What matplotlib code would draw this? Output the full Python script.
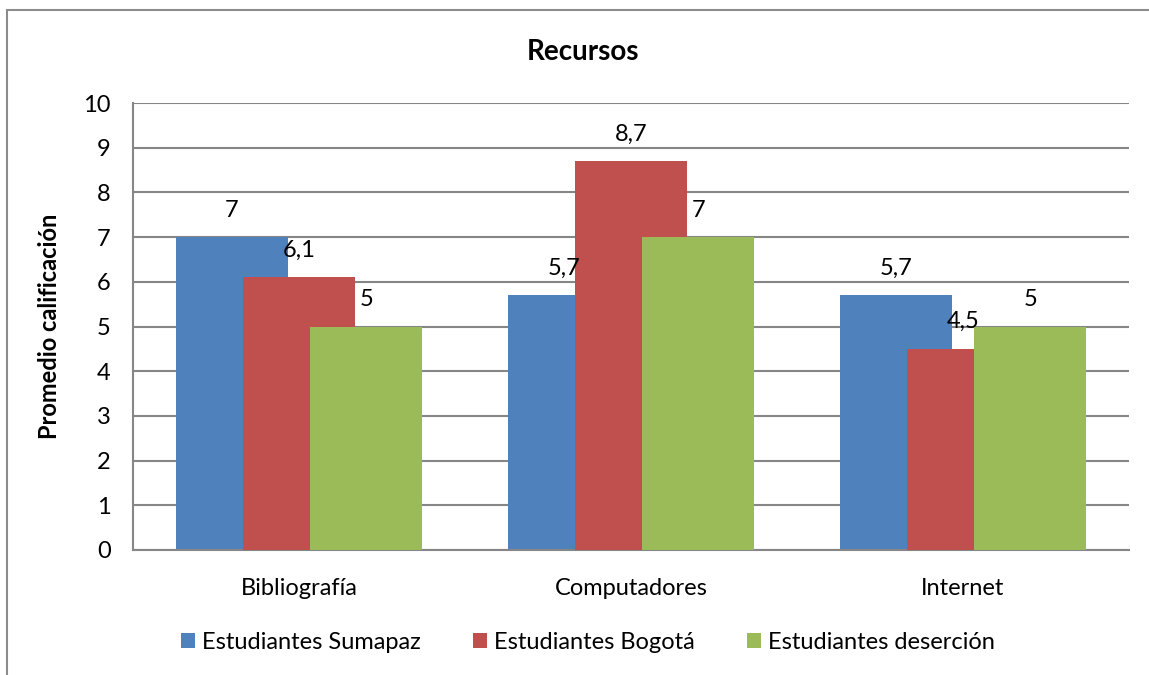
import numpy as np
import matplotlib.pyplot as plt
from matplotlib.patches import Rectangle

plt.rcParams['font.family'] = ['Lato', 'DejaVu Sans']

# data
categorias = ['Bibliografía', 'Computadores', 'Internet']
series = ['Estudiantes Sumapaz', 'Estudiantes Bogotá', 'Estudiantes deserción']
sumapaz = [7, 5.7, 5.7]
bogota = [6.1, 8.7, 4.5]
desercion = [5, 7, 5]
colores = ['#4F81BD', '#C0504D', '#9BBB59']

fig = plt.figure(figsize=(11.49, 6.75), dpi=100)
# outer chart frame like excel
fig.patches.append(Rectangle((7/1149, -0.1), 1.2, 1 - 10/675 + 0.1,
                             transform=fig.transFigure, fill=False,
                             edgecolor='#8c8c8c', linewidth=1.5))

ax = fig.add_axes([133/1149, 125/675, 996/1149, 447/675])

x = np.arange(len(categorias))
ancho = 0.337
paso = 0.203
for i, (vals, nombre) in enumerate(zip([sumapaz, bogota, desercion], series)):
    pos = x + (i - 1) * paso
    ax.bar(pos, vals, width=ancho, color=colores[i], label=nombre, zorder=2 + i)
    for p, v in zip(pos, vals):
        txt = f"{v:g}".replace('.', ',')
        ax.annotate(txt, (p, v), xytext=(0, 19.5), textcoords='offset points',
                    ha='center', va='center', fontsize=17, zorder=10)

ax.set_xlim(-0.5, 2.5)
ax.set_ylim(0, 10)
ax.set_yticks(range(0, 11))
ax.yaxis.grid(True, color='#868686', linewidth=1.5, zorder=0)
ax.set_axisbelow(True)
ax.tick_params(axis='y', length=0, labelsize=17, pad=16)
ax.tick_params(axis='x', length=0, labelsize=17, pad=20)
ax.set_xticks(x)
ax.set_xticklabels(categorias)
for s in ['top', 'right']:
    ax.spines[s].set_visible(False)
for s in ['left', 'bottom']:
    ax.spines[s].set_color('#868686')
    ax.spines[s].set_linewidth(1.5)

ax.set_ylabel('Promedio calificación', fontsize=17, fontweight='bold', labelpad=16)
fig.text(583/1149, 1 - 52/675, 'Recursos', ha='center', va='center',
         fontsize=20, fontweight='bold')

ax.legend(loc='center', bbox_to_anchor=(0.457, -0.207), ncol=3, frameon=False,
          fontsize=17, handlelength=0.6, handleheight=0.6, handletextpad=0.3,
          columnspacing=2.2)

fig.savefig('out.png', dpi=100)
